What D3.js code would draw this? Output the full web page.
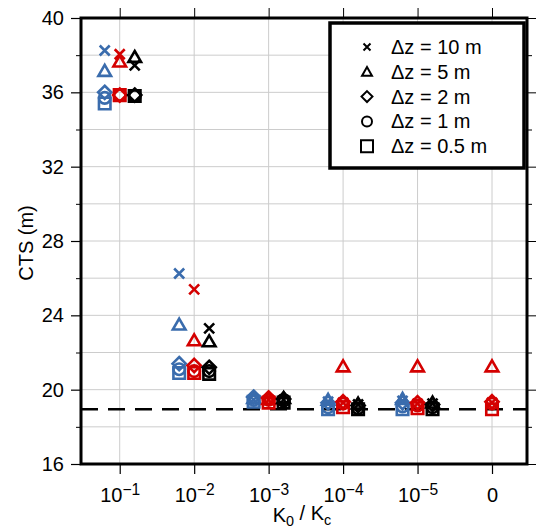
<!DOCTYPE html>
<html>
<head>
<meta charset="utf-8">
<script src="https://cdn.jsdelivr.net/npm/d3@7"></script>
<style>
  body { margin: 0; background: #fff; }
  svg text { font-family: "Liberation Sans", Arial, Helvetica, sans-serif; }
</style>
</head>
<body>
<div id="chart"></div>
<script>
// categories along x (K0 / Kc)
const categories = [0, 1, 2, 3, 4, 5];
const tickBase = ['10', '10', '10', '10', '10', '0'];
const tickExp = ['\u22121', '\u22122', '\u22123', '\u22124', '\u22125', ''];

const yTicks = [16, 20, 24, 28, 32, 36, 40];
const yMinorTicks = [18, 22, 26, 30, 34, 38];

const markers = ['cross', 'triangle', 'diamond', 'circle', 'square'];
const legendLabels = ['\u0394z = 10 m', '\u0394z = 5 m', '\u0394z = 2 m', '\u0394z = 1 m', '\u0394z = 0.5 m'];

const groupNames = ['blue', 'red', 'black'];

// CTS values, one array per dz, one value per category (null = not drawn)
const blueDz10 = [38.25, 26.25, 19.45, 19.35, 19.4, null];
const blueDz5 = [37.15, 23.5, 19.55, 19.45, 19.5, null];
const blueDz2 = [36.0, 21.4, 19.6, 19.3, 19.3, null];
const blueDz1 = [35.7, 21.1, 19.45, 19.05, 19.1, null];
const blueDz05 = [35.4, 20.9, 19.35, 18.95, 18.95, null];

const redDz10 = [38.05, 25.4, 19.45, 19.3, 19.25, 19.3];
const redDz5 = [37.65, 22.65, 19.5, 21.25, 21.25, 21.25];
const redDz2 = [35.85, 21.3, 19.55, 19.35, 19.3, 19.35];
const redDz1 = [35.85, 21.0, 19.45, 19.25, 19.15, 19.25];
const redDz05 = [35.85, 20.9, 19.3, 19.05, 19.0, 18.95];

const blackDz10 = [37.45, 23.3, 19.45, 19.2, 19.25, null];
const blackDz5 = [37.9, 22.6, 19.55, 19.25, 19.3, null];
const blackDz2 = [35.85, 21.2, 19.5, 19.15, 19.2, null];
const blackDz1 = [35.8, 21.0, 19.4, 19.0, 19.05, null];
const blackDz05 = [35.8, 20.85, 19.3, 18.95, 18.95, null];

const referenceCTS = 18.95;

const series = {
  blue: [blueDz10, blueDz5, blueDz2, blueDz1, blueDz05],
  red: [redDz10, redDz5, redDz2, redDz1, redDz05],
  black: [blackDz10, blackDz5, blackDz2, blackDz1, blackDz05]
};

const colors = { blue: '#3a6cad', red: '#d40000', black: '#000000' };
const groupOffset = { blue: -15, red: 0, black: 15 };

const width = 536, height = 530;
const plotLeft = 81, plotRight = 527, plotTop = 18, plotBottom = 464;

const x = d3.scaleLinear().domain([-0.52, 5.47]).range([plotLeft, plotRight]);
const y = d3.scaleLinear().domain([16, 40]).range([plotBottom, plotTop]);

const svg = d3.select('#chart').append('svg')
  .attr('width', width)
  .attr('height', height);

// grid
const grid = svg.append('g').attr('stroke', '#cccccc').attr('stroke-width', 1);
grid.selectAll('.hg')
  .data(yTicks.concat(yMinorTicks))
  .enter().append('line')
  .attr('x1', plotLeft).attr('x2', plotRight)
  .attr('y1', d => y(d)).attr('y2', d => y(d));
grid.selectAll('.vg')
  .data(categories)
  .enter().append('line')
  .attr('x1', d => x(d)).attr('x2', d => x(d))
  .attr('y1', plotTop).attr('y2', plotBottom);

// dashed reference line
svg.append('line')
  .attr('x1', plotLeft).attr('x2', plotRight)
  .attr('y1', y(referenceCTS)).attr('y2', y(referenceCTS))
  .attr('stroke', '#000')
  .attr('stroke-width', 2.5)
  .attr('stroke-dasharray', '17,10');

// marker path generator, centred at 0,0
const markerPath = (type, s) => {
  const h = s / 2;
  switch (type) {
    case 'cross':
      return `M${-h},${-h}L${h},${h}M${-h},${h}L${h},${-h}`;
    case 'triangle':
      return `M0,${-h * 1.05}L${h * 1.1},${h * 0.85}L${-h * 1.1},${h * 0.85}Z`;
    case 'diamond':
      return `M0,${-h * 1.15}L${h * 1.15},0L0,${h * 1.15}L${-h * 1.15},0Z`;
    case 'circle':
      return `M${h},0A${h},${h} 0 1,1 ${-h},0A${h},${h} 0 1,1 ${h},0Z`;
    case 'square':
      return `M${-h},${-h}L${h},${-h}L${h},${h}L${-h},${h}Z`;
  }
};
const markerSize = { cross: 10, triangle: 11.5, diamond: 11.5, circle: 11.5, square: 11.5 };

// points
const points = [];
groupNames.forEach(g => {
  series[g].forEach((vals, mi) => {
    vals.forEach((v, ci) => {
      if (v !== null) points.push({ g, marker: markers[mi], cat: categories[ci], v });
    });
  });
});

svg.append('g')
  .selectAll('path')
  .data(points)
  .enter().append('path')
  .attr('d', d => markerPath(d.marker, markerSize[d.marker]))
  .attr('transform', d => 'translate(' + [x(d.cat) + groupOffset[d.g], y(d.v)] + ')')
  .attr('fill', 'none')
  .attr('stroke', d => colors[d.g])
  .attr('stroke-width', 2.6);

// axes
const fontSize = 20;
const yAxis = svg.append('g')
  .attr('transform', 'translate(' + plotLeft + ',0)')
  .call(d3.axisLeft(y).tickValues(yTicks).tickSize(10).tickPadding(7));
yAxis.select('.domain').remove();
yAxis.selectAll('text').attr('font-size', fontSize).attr('fill', '#000').attr('font-family', null);
yAxis.selectAll('line').attr('stroke-width', 1.2);

const yMinor = svg.append('g')
  .attr('transform', 'translate(' + plotLeft + ',0)')
  .call(d3.axisLeft(y).tickValues(yMinorTicks).tickSize(5).tickFormat(''));
yMinor.select('.domain').remove();

const yRight = svg.append('g')
  .attr('transform', 'translate(' + plotRight + ',0)')
  .call(d3.axisRight(y).tickValues(yTicks).tickSize(9).tickFormat(''));
yRight.select('.domain').remove();
const yRightMinor = svg.append('g')
  .attr('transform', 'translate(' + plotRight + ',0)')
  .call(d3.axisRight(y).tickValues(yMinorTicks).tickSize(5).tickFormat(''));
yRightMinor.select('.domain').remove();

const xAxis = svg.append('g')
  .attr('transform', 'translate(0,' + plotBottom + ')')
  .call(d3.axisBottom(x).tickValues(categories).tickSize(10).tickPadding(8).tickFormat(''));
xAxis.select('.domain').remove();
xAxis.selectAll('line').attr('stroke-width', 1.2);
xAxis.selectAll('.tick text')
  .attr('font-size', fontSize)
  .attr('fill', '#000')
  .attr('font-family', null)
  .attr('dy', '1.0em')
  .each(function (d) {
    const t = d3.select(this);
    t.text(tickBase[d]);
    if (tickExp[d]) {
      t.append('tspan')
        .attr('dy', '-0.45em')
        .attr('font-size', '0.78em')
        .text(tickExp[d]);
    }
  });

const xTop = svg.append('g')
  .attr('transform', 'translate(0,' + plotTop + ')')
  .call(d3.axisTop(x).tickValues(categories).tickSize(10).tickFormat(''));
xTop.select('.domain').remove();

// frame
svg.append('rect')
  .attr('x', plotLeft).attr('y', plotTop)
  .attr('width', plotRight - plotLeft).attr('height', plotBottom - plotTop)
  .attr('fill', 'none')
  .attr('stroke', '#000')
  .attr('stroke-width', 3);

// axis titles
svg.append('text')
  .attr('transform', 'translate(33,' + ((plotTop + plotBottom) / 2 + 2) + ') rotate(-90)')
  .attr('text-anchor', 'middle')
  .attr('font-size', fontSize)
  .text('CTS (m)');

const xTitle = svg.append('text')
  .attr('x', (plotLeft + plotRight) / 2 - 2)
  .attr('y', 522)
  .attr('text-anchor', 'middle')
  .attr('font-size', fontSize);
xTitle.append('tspan').text('K');
xTitle.append('tspan').attr('dy', '0.3em').attr('font-size', '0.72em').text('0');
xTitle.append('tspan').attr('dy', '-0.3em').text(' / K');
xTitle.append('tspan').attr('dy', '0.3em').attr('font-size', '0.72em').text('c');

// legend
const legend = svg.append('g');
legend.append('rect')
  .attr('x', 330).attr('y', 23)
  .attr('width', 194).attr('height', 145)
  .attr('fill', '#fff')
  .attr('stroke', '#000')
  .attr('stroke-width', 3.5);

const legendSize = { cross: 7, triangle: 9, diamond: 9.5, circle: 10, square: 12 };
const rows = legend.selectAll('.row')
  .data(markers)
  .enter().append('g')
  .attr('transform', (d, i) => 'translate(0,' + (47 + i * 24.8) + ')');
rows.append('path')
  .attr('d', d => markerPath(d, legendSize[d]))
  .attr('transform', 'translate(367,0)')
  .attr('fill', 'none')
  .attr('stroke', '#000')
  .attr('stroke-width', 2);
rows.append('text')
  .attr('x', 391)
  .attr('y', 7)
  .attr('font-size', fontSize)
  .text((d, i) => legendLabels[i]);
</script>
</body>
</html>
